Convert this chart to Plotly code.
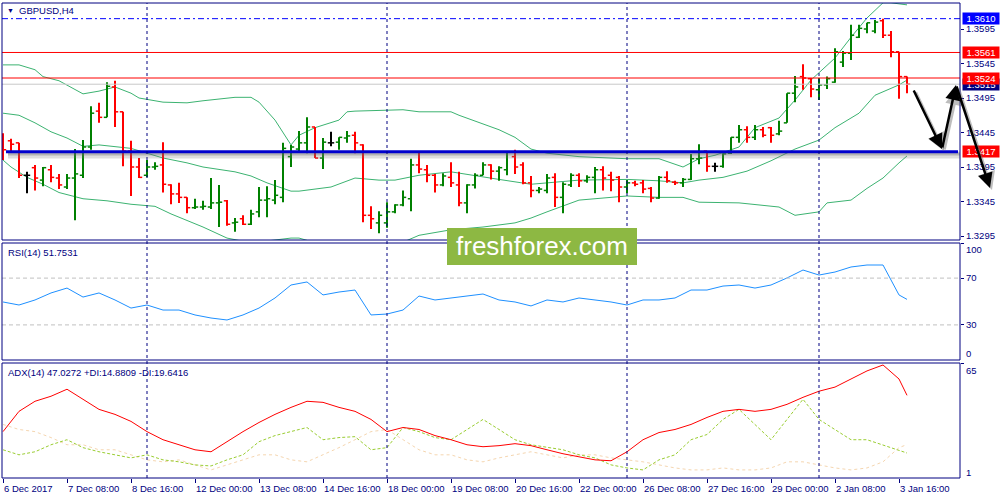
import plotly.graph_objects as go

# ---------------- data ----------------
symbol = "GBPUSD,H4"
x_tick_idx = [0, 8, 16, 24, 32, 40, 48, 56, 64, 72, 80, 88, 96, 104, 112]
x_tick_labels = ["6 Dec 2017", "7 Dec 08:00", "8 Dec 16:00", "12 Dec 00:00", "13 Dec 08:00",
                 "14 Dec 16:00", "18 Dec 00:00", "19 Dec 08:00", "20 Dec 16:00", "22 Dec 00:00",
                 "26 Dec 08:00", "27 Dec 16:00", "29 Dec 00:00", "2 Jan 08:00", "3 Jan 16:00"]
week_sep_idx = [18, 48, 78, 102]

open_ = [1.3434, 1.3433, 1.3430, 1.3383, 1.3394, 1.3376, 1.3391, 1.3379, 1.3366, 1.3379,
         1.3383, 1.3424, 1.3476, 1.3467, 1.3511, 1.3475, 1.3418, 1.3395, 1.3383, 1.3395,
         1.3398, 1.3369, 1.3356, 1.3351, 1.3336, 1.3337, 1.3337, 1.3343, 1.3346, 1.3314,
         1.3320, 1.3312, 1.3330, 1.3347, 1.3347, 1.3351, 1.3410, 1.3421, 1.3430, 1.3453,
         1.3408, 1.3430, 1.3431, 1.3437, 1.3441, 1.3427, 1.3325, 1.3314, 1.3314, 1.3330,
         1.3340, 1.3349, 1.3398, 1.3391, 1.3383, 1.3369, 1.3380, 1.3369, 1.3343, 1.3369,
         1.3383, 1.3398, 1.3389, 1.3391, 1.3410, 1.3398, 1.3372, 1.3361, 1.3361, 1.3380,
         1.3351, 1.3369, 1.3383, 1.3375, 1.3380, 1.3391, 1.3383, 1.3380, 1.3366, 1.3372,
         1.3372, 1.3364, 1.3350, 1.3380, 1.3373, 1.3372, 1.3377, 1.3407, 1.3418, 1.3396,
         1.3396, 1.3415, 1.3438, 1.3449, 1.3438, 1.3449, 1.3452, 1.3443, 1.3459, 1.3502,
         1.3526, 1.3523, 1.3507, 1.3514, 1.3518, 1.3547, 1.3560, 1.3583, 1.3595, 1.3592,
         1.3607, 1.3586, 1.3562, 1.3526]
high = [1.3444, 1.3436, 1.3430, 1.3388, 1.3398, 1.3395, 1.3398, 1.3385, 1.3385, 1.3421,
        1.3434, 1.3483, 1.3488, 1.3518, 1.3520, 1.3475, 1.3433, 1.3408, 1.3405, 1.3402,
        1.3431, 1.3370, 1.3372, 1.3351, 1.3349, 1.3346, 1.3379, 1.3369, 1.3347, 1.3321,
        1.3325, 1.3333, 1.3366, 1.3367, 1.3376, 1.3430, 1.3427, 1.3447, 1.3467, 1.3453,
        1.3437, 1.3446, 1.3438, 1.3447, 1.3446, 1.3428, 1.3338, 1.3331, 1.3344, 1.3341,
        1.3361, 1.3407, 1.3418, 1.3398, 1.3385, 1.3386, 1.3402, 1.3388, 1.3370, 1.3386,
        1.3402, 1.3399, 1.3396, 1.3418, 1.3420, 1.3402, 1.3382, 1.3366, 1.3385, 1.3386,
        1.3373, 1.3386, 1.3386, 1.3383, 1.3395, 1.3396, 1.3388, 1.3382, 1.3376, 1.3375,
        1.3376, 1.3366, 1.3382, 1.3389, 1.3375, 1.3379, 1.3414, 1.3428, 1.3418, 1.3401,
        1.3415, 1.3438, 1.3456, 1.3454, 1.3456, 1.3453, 1.3453, 1.3462, 1.3502, 1.3527,
        1.3544, 1.3524, 1.3524, 1.3526, 1.3567, 1.3563, 1.3601, 1.3601, 1.3604, 1.3608,
        1.3610, 1.3592, 1.3562, 1.3526]
low = [1.3405, 1.3418, 1.3379, 1.3357, 1.3361, 1.3367, 1.3373, 1.3363, 1.3363, 1.3318,
       1.3379, 1.3420, 1.3459, 1.3467, 1.3453, 1.3396, 1.3353, 1.3379, 1.3380, 1.3391,
       1.3358, 1.3341, 1.3343, 1.3328, 1.3334, 1.3333, 1.3334, 1.3308, 1.3310, 1.3301,
       1.3311, 1.3311, 1.3322, 1.3322, 1.3341, 1.3344, 1.3395, 1.3418, 1.3415, 1.3408,
       1.3392, 1.3425, 1.3420, 1.3430, 1.3415, 1.3315, 1.3305, 1.3299, 1.3307, 1.3328,
       1.3338, 1.3331, 1.3386, 1.3373, 1.3358, 1.3367, 1.3366, 1.3338, 1.3328, 1.3364,
       1.3383, 1.3377, 1.3375, 1.3383, 1.3385, 1.3370, 1.3351, 1.3357, 1.3357, 1.3337,
       1.3328, 1.3366, 1.3366, 1.3372, 1.3357, 1.3361, 1.3360, 1.3344, 1.3357, 1.3367,
       1.3357, 1.3344, 1.3349, 1.3372, 1.3369, 1.3366, 1.3376, 1.3399, 1.3388, 1.3388,
       1.3394, 1.3414, 1.3430, 1.3430, 1.3434, 1.3438, 1.3430, 1.3441, 1.3459, 1.3489,
       1.3507, 1.3496, 1.3492, 1.3508, 1.3517, 1.3540, 1.3550, 1.3582, 1.3589, 1.3589,
       1.3582, 1.3554, 1.3494, 1.3502]
close = [1.3420, 1.3428, 1.3383, 1.3383, 1.3379, 1.3394, 1.3380, 1.3369, 1.3379, 1.3385,
         1.3424, 1.3473, 1.3467, 1.3512, 1.3475, 1.3418, 1.3395, 1.3380, 1.3395, 1.3396,
         1.3370, 1.3356, 1.3351, 1.3336, 1.3337, 1.3338, 1.3343, 1.3344, 1.3312, 1.3315,
         1.3312, 1.3327, 1.3347, 1.3349, 1.3354, 1.3422, 1.3424, 1.3430, 1.3453, 1.3408,
         1.3431, 1.3430, 1.3438, 1.3440, 1.3430, 1.3325, 1.3320, 1.3325, 1.3330, 1.3340,
         1.3351, 1.3398, 1.3392, 1.3383, 1.3369, 1.3382, 1.3372, 1.3343, 1.3369, 1.3383,
         1.3398, 1.3389, 1.3394, 1.3417, 1.3395, 1.3372, 1.3361, 1.3363, 1.3379, 1.3351,
         1.3370, 1.3383, 1.3375, 1.3380, 1.3391, 1.3379, 1.3376, 1.3366, 1.3372, 1.3370,
         1.3363, 1.3350, 1.3380, 1.3375, 1.3372, 1.3377, 1.3407, 1.3408, 1.3396, 1.3396,
         1.3414, 1.3438, 1.3449, 1.3438, 1.3449, 1.3441, 1.3441, 1.3447, 1.3502, 1.3511,
         1.3524, 1.3508, 1.3514, 1.3523, 1.3562, 1.3560, 1.3586, 1.3596, 1.3604, 1.3605,
         1.3586, 1.3562, 1.3526, 1.3515]

bb_up_idx = [0, 2, 4, 5, 7, 10, 12, 14, 16, 17, 20, 23, 25, 29, 31, 32, 34, 35, 36, 37, 39, 42, 43, 44,
             50, 52, 56, 57, 60, 62, 64, 66, 68, 72, 78, 82, 85, 87, 89, 92, 94, 97, 99, 101, 104, 106,
             108, 110, 111, 113]
bb_up_val = [1.3543, 1.3543, 1.3536, 1.3526, 1.3520, 1.3501, 1.3505, 1.3511, 1.3502, 1.3495, 1.3489,
             1.3488, 1.3491, 1.3496, 1.3496, 1.3489, 1.3463, 1.3444, 1.3427, 1.3441, 1.3452, 1.3463,
             1.3475, 1.3476, 1.3478, 1.3475, 1.3475, 1.3470, 1.3457, 1.3449, 1.3438, 1.3421, 1.3415,
             1.3410, 1.3407, 1.3407, 1.3395, 1.3407, 1.3412, 1.3424, 1.3452, 1.3466, 1.3492, 1.3521,
             1.3553, 1.3583, 1.3611, 1.3633, 1.3633, 1.3630]
bb_mid_idx = [0, 2, 4, 6, 8, 10, 12, 14, 16, 18, 20, 23, 25, 29, 31, 33, 36, 37, 41, 44, 47, 49, 52,
              56, 59, 62, 66, 68, 72, 78, 82, 85, 87, 90, 93, 96, 99, 102, 104, 107, 109, 112, 113]
bb_mid_val = [1.3473, 1.3470, 1.3459, 1.3446, 1.3437, 1.3425, 1.3427, 1.3424, 1.3422, 1.3415, 1.3408,
              1.3401, 1.3395, 1.3388, 1.3382, 1.3372, 1.3360, 1.3360, 1.3366, 1.3379, 1.3376, 1.3376,
              1.3383, 1.3388, 1.3383, 1.3377, 1.3370, 1.3372, 1.3376, 1.3377, 1.3375, 1.3372, 1.3376,
              1.3380, 1.3389, 1.3404, 1.3421, 1.3434, 1.3452, 1.3473, 1.3499, 1.3514, 1.3521]
bb_low_idx = [0, 1, 3, 5, 7, 10, 13, 16, 19, 21, 25, 28, 31, 33, 36, 37, 40, 43, 47, 50, 52, 56, 60,
              64, 66, 68, 72, 78, 82, 85, 87, 92, 97, 99, 102, 103, 106, 108, 110, 112, 113]
bb_low_val = [1.3405, 1.3395, 1.3380, 1.3370, 1.3358, 1.3349, 1.3346, 1.3341, 1.3338, 1.3327, 1.3308,
              1.3292, 1.3285, 1.3288, 1.3292, 1.3292, 1.3282, 1.3267, 1.3275, 1.3286, 1.3296, 1.3304,
              1.3308, 1.3314, 1.3321, 1.3330, 1.3347, 1.3353, 1.3351, 1.3351, 1.3344, 1.3343, 1.3337,
              1.3325, 1.3330, 1.3343, 1.3347, 1.3364, 1.3379, 1.3401, 1.3411]

ind_idx = list(range(0, 113, 2)) + [113]
rsi = [49.6, 47.0, 51.3, 57.3, 61.5, 53.8, 57.3, 51.3, 44.4, 47.0, 42.7, 42.7, 38.5, 35.9, 34.2, 38.5,
       44.4, 53.0, 64.1, 66.7, 55.6, 58.1, 59.8, 38.5, 39.3, 42.7, 54.7, 51.3, 53.0, 54.7, 56.4, 51.3,
       49.6, 46.2, 51.3, 49.6, 53.0, 51.3, 49.6, 47.0, 51.3, 51.3, 53.0, 59.8, 59.8, 63.2, 64.1, 61.5,
       64.1, 70.1, 76.9, 72.6, 75.2, 79.5, 81.2, 81.2, 55.6, 51.8]
adx = [26.8, 38.1, 43.7, 46.5, 50.4, 44.8, 39.2, 36.4, 32.5, 26.8, 22.3, 19.5, 16.7, 15.6, 21.2, 26.8,
       31.9, 36.4, 40.3, 43.7, 43.1, 40.3, 38.1, 33.6, 26.8, 29.1, 28.0, 24.6, 22.3, 19.5, 18.4, 19.0,
       20.1, 19.0, 16.7, 14.5, 12.8, 11.1, 10.6, 15.6, 22.3, 26.3, 28.0, 30.8, 34.7, 38.1, 39.2, 38.1,
       39.2, 42.0, 45.9, 49.3, 51.6, 56.1, 60.6, 63.9, 56.1, 47.0]
plus_di = [16.7, 13.9, 15.6, 19.5, 22.3, 17.9, 15.6, 13.9, 12.2, 13.9, 11.1, 10.0, 8.3, 7.7, 11.1, 13.9,
           21.2, 24.6, 26.8, 29.1, 22.3, 23.5, 24.0, 16.7, 17.9, 29.1, 26.8, 23.5, 22.3, 28.0, 33.6, 28.0,
           22.3, 19.5, 17.9, 16.7, 13.9, 12.2, 8.3, 6.6, 5.5, 11.1, 13.9, 22.3, 25.2, 33.6, 39.2, 30.8,
           22.3, 33.6, 44.8, 33.6, 28.0, 22.3, 22.3, 19.5, 16.7, 14.9]
minus_di = [30.8, 28.0, 26.8, 23.5, 19.5, 19.5, 16.7, 16.7, 13.9, 11.1, 10.0, 11.1, 8.3, 5.5, 8.3, 11.1,
            13.9, 13.9, 11.1, 10.0, 13.9, 17.9, 22.3, 26.8, 28.0, 22.3, 16.7, 13.9, 13.9, 11.1, 10.0, 12.2,
            13.9, 15.6, 13.9, 12.2, 13.9, 13.9, 12.2, 11.1, 10.0, 8.3, 6.6, 5.5, 5.5, 6.6, 5.5, 5.5,
            6.6, 10.0, 10.0, 8.3, 6.6, 5.5, 6.6, 10.0, 17.9, 19.6]

level_high = 1.3610
levels_red = [1.3561, 1.3524]
level_support = 1.3417
bid = close[-1]
price_ticks = [1.3295, 1.3345, 1.3395, 1.3445, 1.3495, 1.3545, 1.3595]
rsi_title = "RSI(14) 51.7531"
adx_title = "ADX(14) 47.0272 +DI:14.8809 -DI:19.6416"

# ---------------- style ----------------
FONT = "Liberation Sans, Arial, sans-serif"
NAVY = "#000080"
XD = [0.002, 0.96]
XR = [-0.125, 119.625]
D_MAIN = [0.52, 0.994]
D_RSI = [0.28, 0.514]
D_ADX = [0.044, 0.274]
Y_MAIN = [1.32892, 1.36327]

fig = go.Figure()


def bar_segments(idx):
    vx, vy, tx, ty = [], [], [], []
    for k in idx:
        vx += [k, k, None]
        vy += [low[k], high[k], None]
        tx += [k - 0.4, k, None, k, k + 0.4, None]
        ty += [open_[k], open_[k], None, close[k], close[k], None]
    return vx, vy, tx, ty


groups = [
    ([k for k in range(len(close)) if close[k] > open_[k]], "#008000"),
    ([k for k in range(len(close)) if close[k] < open_[k]], "#ff0000"),
    ([k for k in range(len(close)) if close[k] == open_[k]], "#000000"),
]

# Bollinger bands
for ix, vals in [(bb_up_idx, bb_up_val), (bb_mid_idx, bb_mid_val), (bb_low_idx, bb_low_val)]:
    fig.add_trace(go.Scatter(x=ix, y=vals, mode="lines", line=dict(color="#3cb371", width=1),
                             xaxis="x", yaxis="y", hoverinfo="skip", showlegend=False))

for idx, col in groups:
    vx, vy, tx, ty = bar_segments(idx)
    fig.add_trace(go.Scatter(x=vx, y=vy, mode="lines", line=dict(color=col, width=2),
                             xaxis="x", yaxis="y", hoverinfo="skip", showlegend=False))
    fig.add_trace(go.Scatter(x=tx, y=ty, mode="lines", line=dict(color=col, width=1.5),
                             xaxis="x", yaxis="y", hoverinfo="skip", showlegend=False))

# RSI
fig.add_trace(go.Scatter(x=ind_idx, y=rsi, mode="lines", line=dict(color="#1e90ff", width=1),
                         xaxis="x", yaxis="y2", hoverinfo="skip", showlegend=False))
# ADX
fig.add_trace(go.Scatter(x=ind_idx, y=minus_di, mode="lines", line=dict(color="#f5d6b0", width=1, dash="dot"),
                         xaxis="x", yaxis="y3", hoverinfo="skip", showlegend=False))
fig.add_trace(go.Scatter(x=ind_idx, y=plus_di, mode="lines", line=dict(color="#9acd32", width=1, dash="3px,2px"),
                         xaxis="x", yaxis="y3", hoverinfo="skip", showlegend=False))
fig.add_trace(go.Scatter(x=ind_idx, y=adx, mode="lines", line=dict(color="#ff0000", width=1),
                         xaxis="x", yaxis="y3", hoverinfo="skip", showlegend=False))

shapes = []
# horizontal levels
shapes.append(dict(type="line", xref="paper", yref="y", x0=XD[0], x1=XD[1], y0=bid, y1=bid,
                   line=dict(color="#c8c8c8", width=1)))
for lv in levels_red:
    shapes.append(dict(type="line", xref="paper", yref="y", x0=XD[0], x1=XD[1], y0=lv, y1=lv,
                       line=dict(color="#ff0000", width=1)))
shapes.append(dict(type="line", xref="paper", yref="y", x0=XD[0], x1=XD[1], y0=level_high, y1=level_high,
                   line=dict(color="#0000ff", width=1, dash="6px,3px,2px,3px")))
# support line with shadow
shapes.append(dict(type="line", xref="paper", yref="y", x0=0.008, x1=0.96, y0=level_support - 0.00045,
                   y1=level_support - 0.00045, line=dict(color="rgba(120,120,120,0.25)", width=7)))
shapes.append(dict(type="line", xref="paper", yref="y", x0=0.008, x1=0.96, y0=level_support - 0.0003,
                   y1=level_support - 0.0003, line=dict(color="rgba(100,100,100,0.35)", width=3)))
shapes.append(dict(type="line", xref="paper", yref="y", x0=0.006, x1=0.958, y0=level_support,
                   y1=level_support, line=dict(color="#0000cd", width=3)))
# RSI levels
for lv in [70, 30]:
    shapes.append(dict(type="line", xref="paper", yref="y2", x0=XD[0], x1=XD[1], y0=lv, y1=lv,
                       line=dict(color="#c0c0c0", width=1, dash="4px,3px")))
# week separators
for k in week_sep_idx:
    shapes.append(dict(type="line", xref="x", yref="paper", x0=k, x1=k, y0=D_ADX[0], y1=D_MAIN[1],
                       line=dict(color=NAVY, width=1, dash="3px,3px")))
# panel borders
for d in (D_MAIN, D_RSI, D_ADX):
    shapes.append(dict(type="rect", xref="paper", yref="paper", x0=XD[0], x1=XD[1], y0=d[0], y1=d[1],
                       line=dict(color=NAVY, width=1), fillcolor="rgba(0,0,0,0)"))
# watermark box
shapes.append(dict(type="rect", xref="paper", yref="paper", x0=0.447, x1=0.637, y0=0.47, y1=0.544,
                   line=dict(width=0), fillcolor="#8db843", layer="above"))

ann = []
# titles
ann.append(dict(xref="paper", yref="paper", x=0.005, y=0.98, text="▼", showarrow=False, xanchor="left",
                yanchor="middle", font=dict(family=FONT, size=7, color=NAVY)))
ann.append(dict(xref="paper", yref="paper", x=0.017, y=0.98, text=symbol, showarrow=False, xanchor="left",
                yanchor="middle", font=dict(family=FONT, size=9.5, color=NAVY)))
ann.append(dict(xref="paper", yref="paper", x=0.006, y=1 - 252 / 500, text=rsi_title, showarrow=False,
                xanchor="left", yanchor="middle", font=dict(family=FONT, size=9.5, color=NAVY)))
ann.append(dict(xref="paper", yref="paper", x=0.006, y=1 - 372 / 500, text=adx_title, showarrow=False,
                xanchor="left", yanchor="middle", font=dict(family=FONT, size=9.5, color=NAVY)))
# x labels
for k, lab in zip(x_tick_idx, x_tick_labels):
    ann.append(dict(xref="x", yref="paper", x=k - 0.1, y=1 - 488 / 500, text=lab, showarrow=False,
                    xanchor="left", yanchor="middle", font=dict(family=FONT, size=9.5, color=NAVY)))
# inset scale labels
for txt, yy in [("100", 249), ("0", 353), ("65", 370), ("1", 472)]:
    ann.append(dict(xref="paper", yref="paper", x=0.964, y=1 - yy / 500, text=txt, showarrow=False,
                    xanchor="left", yanchor="middle", font=dict(family=FONT, size=9.5, color=NAVY)))
# price boxes
for val, col in [(bid, NAVY), (level_high, "#0000ff"), (levels_red[0], "#ff0000"), (levels_red[1], "#ff0000"),
                 (level_support, "#ff0000")]:
    ann.append(dict(xref="paper", yref="y", x=0.9615, y=val, text=f"{val:.4f}", showarrow=False,
                    xanchor="left", yanchor="middle", bgcolor=col, width=36, height=11, borderpad=0,
                    font=dict(family=FONT, size=9.5, color="white")))
# arrows (drawing, pixel geometry)
arrows = [((913, 89), (942, 149)), ((942, 149), (956, 85)), ((956, 85), (990, 188))]
for (tx_, ty_), (hx, hy) in arrows:
    ann.append(dict(xref="paper", yref="paper", x=(hx + 2) / 1000, y=1 - (hy + 2) / 500, ax=tx_ - hx,
                    ay=ty_ - hy, axref="pixel", ayref="pixel", text="", showarrow=True, arrowhead=2,
                    arrowsize=1.2, arrowwidth=3, arrowcolor="rgba(110,110,110,0.45)"))
for (tx_, ty_), (hx, hy) in arrows:
    ann.append(dict(xref="paper", yref="paper", x=hx / 1000, y=1 - hy / 500, ax=tx_ - hx, ay=ty_ - hy,
                    axref="pixel", ayref="pixel", text="", showarrow=True, arrowhead=2, arrowsize=1.2,
                    arrowwidth=2.5, arrowcolor="#000000"))
# watermark text
ann.append(dict(xref="paper", yref="paper", x=0.542, y=1 - 246 / 500, text="freshforex.com", showarrow=False,
                xanchor="center", yanchor="middle", font=dict(family=FONT, size=26, color="white")))

axis_common = dict(showgrid=False, zeroline=False, showline=False, fixedrange=True)
fig.update_layout(
    width=1000, height=500, margin=dict(l=0, r=0, t=0, b=0),
    paper_bgcolor="white", plot_bgcolor="white", showlegend=False,
    xaxis=dict(domain=XD, range=XR, anchor="free", position=D_ADX[0], tickvals=x_tick_idx,
               ticks="outside", ticklen=4, tickcolor=NAVY, showticklabels=False, **axis_common),
    yaxis=dict(domain=D_MAIN, range=Y_MAIN, side="right", anchor="x", tickvals=price_ticks,
               ticktext=[f"{v:.4f}" for v in price_ticks], ticks="outside", ticklen=3, tickcolor=NAVY,
               tickfont=dict(family=FONT, size=9.5, color=NAVY), **axis_common),
    yaxis2=dict(domain=D_RSI, range=[0, 100], side="right", anchor="x", tickvals=[100, 70, 30],
                ticktext=["", "70", "30"], ticks="outside", ticklen=3, tickcolor=NAVY,
                tickfont=dict(family=FONT, size=9.5, color=NAVY), **axis_common),
    yaxis3=dict(domain=D_ADX, range=[1, 65], side="right", anchor="x", tickvals=[65],
                ticktext=[""], ticks="outside", ticklen=3, tickcolor=NAVY,
                tickfont=dict(family=FONT, size=9.5, color=NAVY), **axis_common),
    shapes=shapes, annotations=ann,
)

fig.write_html("out.html", config={"displayModeBar": False, "staticPlot": True},
               post_script="document.body.style.margin='0';document.body.style.overflow='hidden';")
